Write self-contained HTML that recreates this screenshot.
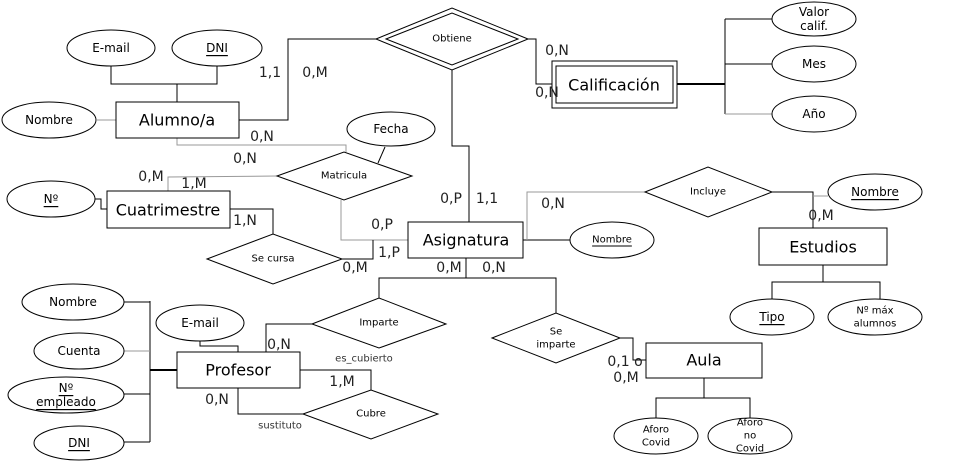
<!DOCTYPE html>
<html><head><meta charset="utf-8"><style>
html,body{margin:0;padding:0;background:#fff;}
svg{display:block;font-family:"DejaVu Sans","Liberation Sans",sans-serif;}
.l{stroke:#000;stroke-width:1;fill:none;}
.g{stroke:#999;}
.s{fill:#fff;stroke:#000;stroke-width:1;}
.e{font-size:16px;}
.a{font-size:12px;}
.r{font-size:10px;}
.c{font-size:14px;fill:#222;}
text{text-anchor:middle;dominant-baseline:central;}
</style></head><body>
<svg width="955" height="461" viewBox="0 0 955 461">
<g>
<polyline class="l" points="111,66 111,84 217,84 217,66"/><line class="l" x1="177" y1="84" x2="177" y2="102"/>
<line class="l g" x1="97" y1="120" x2="116" y2="120"/>
<polyline class="l" points="239,120 288,120 288,39 376,39"/>
<polyline class="l" points="452,70 452,146 469,146 469,222"/>
<polyline class="l" points="521,39 536,39 536,84 552,84"/>
<line class="l" x1="677" y1="84" x2="725" y2="84" style="stroke-width:2"/>
<line class="l" x1="725" y1="19" x2="725" y2="114"/>
<line class="l" x1="725" y1="19" x2="772" y2="19"/><line class="l" x1="725" y1="64" x2="772" y2="64"/><line class="l g" x1="725" y1="114" x2="772" y2="114"/>
<polyline class="l g" points="177,138 177,145 346,145 346,152"/>
<line class="l" x1="385" y1="147" x2="378" y2="163"/>
<polyline class="l g" points="277,176 168,177 168,191"/>
<polyline class="l g" points="341,200 341,240 408,240"/>
<polyline class="l" points="95,199 101,199 101,209 107,209"/>
<polyline class="l" points="230,209 273,209 273,234"/>
<polyline class="l" points="342,259 373,259 373,240"/>
<line class="l" x1="523" y1="240" x2="570" y2="240"/>
<polyline class="l g" points="527,240 527,192 645,192"/>
<polyline class="l" points="772,192 813,192 813,229"/><line class="l g" x1="813" y1="196" x2="828" y2="196"/>
<line class="l" x1="823" y1="265" x2="823" y2="282"/><polyline class="l" points="772,300 772,282 880,282 880,300"/>
<line class="l" x1="466" y1="258" x2="466" y2="278"/><polyline class="l" points="379,298 379,278 556,278 556,313"/>
<polyline class="l" points="312,324 266,324 266,352"/>
<polyline class="l" points="200,341 200,346 238,346 238,352"/>
<line class="l" x1="150" y1="301" x2="150" y2="442"/>
<line class="l" x1="124" y1="302" x2="150" y2="302"/><line class="l g" x1="124" y1="351" x2="150" y2="351"/><line class="l" x1="124" y1="394" x2="150" y2="394"/><line class="l" x1="124" y1="442" x2="150" y2="442"/>
<line class="l" x1="150" y1="370" x2="177" y2="370" style="stroke-width:2"/>
<polyline class="l" points="300,370 371,370 371,390"/>
<polyline class="l" points="238,388 238,414 303,414"/>
<polyline class="l" points="620,338 633,338 633,360 646,360"/>
<line class="l" x1="704" y1="378" x2="704" y2="398"/><polyline class="l" points="656,418 656,398 750,398 750,418"/>
</g>
<g><rect class="s" x="116" y="102" width="123" height="36"/><text class="e" x="177" y="120">Alumno/a</text></g>
<g><rect class="s" x="552" y="61" width="125" height="47"/><rect class="s" x="556" y="66" width="117" height="37"/><text class="e" x="614" y="85">Calificación</text></g>
<g><rect class="s" x="107" y="191" width="123" height="37"/><text class="e" x="168" y="210">Cuatrimestre</text></g>
<g><rect class="s" x="408" y="222" width="115" height="36"/><text class="e" x="466" y="240">Asignatura</text></g>
<g><rect class="s" x="759" y="228" width="128" height="37"/><text class="e" x="823" y="247">Estudios</text></g>
<g><rect class="s" x="177" y="352" width="123" height="36"/><text class="e" x="238" y="370">Profesor</text></g>
<g><rect class="s" x="646" y="343" width="116" height="35"/><text class="e" x="704" y="360">Aula</text></g>
<g><polygon class="s" points="376,39 452,8 528,39 452,70"/><polygon class="s" points="386,39 452,13 518,39 452,65"/><text class="r" x="452" y="39">Obtiene</text></g>
<g><polygon class="s" points="277,176 344,152 412,176 344,200"/><text class="r" x="344" y="176">Matricula</text></g>
<g><polygon class="s" points="207,259 273,234 342,259 273,284"/><text class="r" x="273" y="259">Se cursa</text></g>
<g><polygon class="s" points="645,192 708,167 772,192 708,217"/><text class="r" x="708" y="192">Incluye</text></g>
<g><polygon class="s" points="312,324 379,298 446,324 379,348"/><text class="r" x="379" y="323">Imparte</text></g>
<g><polygon class="s" points="492,338 556,313 620,338 556,363"/><text class="r" x="556" y="332">Se</text><text class="r" x="556" y="345">imparte</text></g>
<g><polygon class="s" points="303,414 371,390 438,414 371,439"/><text class="r" x="371" y="414">Cubre</text></g>
<g>
<g><ellipse class="s" cx="111" cy="48" rx="44" ry="18"/><text class="a" x="111" y="48">E-mail</text></g>
<g><ellipse class="s" cx="217" cy="48" rx="45" ry="18"/><text class="a" x="217" y="48" text-decoration="underline">DNI</text></g>
<g><ellipse class="s" cx="49" cy="120" rx="47" ry="18"/><text class="a" x="49" y="120">Nombre</text></g>
<g><ellipse class="s" cx="814" cy="19" rx="42" ry="17"/><text class="a" x="814" y="12">Valor</text><text class="a" x="814" y="26">calif.</text></g>
<g><ellipse class="s" cx="814" cy="64" rx="42" ry="18"/><text class="a" x="814" y="64">Mes</text></g>
<g><ellipse class="s" cx="814" cy="114" rx="42" ry="18"/><text class="a" x="814" y="114">Año</text></g>
<g><ellipse class="s" cx="391" cy="129" rx="44" ry="17"/><text class="a" x="391" y="129">Fecha</text></g>
<g><ellipse class="s" cx="51" cy="199" rx="44" ry="18"/><text class="a" x="51" y="199" text-decoration="underline">Nº</text></g>
<g><ellipse class="s" cx="612" cy="240" rx="42" ry="18"/><text class="r" x="612" y="240" text-decoration="underline">Nombre</text></g>
<g><ellipse class="s" cx="875" cy="192" rx="47" ry="18"/><text class="a" x="875" y="192" text-decoration="underline">Nombre</text></g>
<g><ellipse class="s" cx="772" cy="317" rx="42" ry="18"/><text class="a" x="772" y="317" text-decoration="underline">Tipo</text></g>
<g><ellipse class="s" cx="875" cy="317" rx="47" ry="18"/><text class="r" x="875" y="311">Nº máx</text><text class="r" x="875" y="324">alumnos</text></g>
<g><ellipse class="s" cx="200" cy="323" rx="44" ry="18"/><text class="a" x="200" y="323">E-mail</text></g>
<g><ellipse class="s" cx="73" cy="302" rx="51" ry="18"/><text class="a" x="73" y="302">Nombre</text></g>
<g><ellipse class="s" cx="79" cy="351" rx="45" ry="18"/><text class="a" x="79" y="351">Cuenta</text></g>
<g><ellipse class="s" cx="66" cy="395" rx="58" ry="18"/><text class="a" x="66" y="388" text-decoration="underline">Nº</text><text class="a" x="66" y="402" text-decoration="underline">empleado</text></g>
<g><ellipse class="s" cx="79" cy="443" rx="45" ry="17"/><text class="a" x="79" y="443" text-decoration="underline">DNI</text></g>
<g><ellipse class="s" cx="656" cy="436" rx="42" ry="18"/><text class="r" x="656" y="430">Aforo</text><text class="r" x="656" y="443">Covid</text></g>
<g><ellipse class="s" cx="750" cy="436" rx="42" ry="18"/><text class="r" x="750" y="423">Aforo</text><text class="r" x="750" y="436">no</text><text class="r" x="750" y="449">Covid</text></g>
</g>
<g>
<text class="c" x="270" y="73">1,1</text><text class="c" x="315" y="73">0,M</text>
<text class="c" x="557" y="51">0,N</text><text class="c" x="547" y="93">0,N</text>
<text class="c" x="262" y="137">0,N</text><text class="c" x="245" y="159">0,N</text>
<text class="c" x="151" y="177">0,M</text><text class="c" x="194" y="184">1,M</text>
<text class="c" x="245" y="221">1,N</text>
<text class="c" x="382" y="225">0,P</text><text class="c" x="389" y="253">1,P</text><text class="c" x="355" y="268">0,M</text>
<text class="c" x="451" y="199">0,P</text><text class="c" x="487" y="199">1,1</text>
<text class="c" x="553" y="204">0,N</text><text class="c" x="821" y="216">0,M</text>
<text class="c" x="449" y="268">0,M</text><text class="c" x="494" y="268">0,N</text>
<text class="c" x="279" y="345">0,N</text><text class="c" x="342" y="382">1,M</text><text class="c" x="217" y="400">0,N</text>
<text class="c" x="625" y="362">0,1 o</text><text class="c" x="626" y="378">0,M</text>
<text class="r" x="364" y="359" style="fill:#333">es_cubierto</text><text class="r" x="280" y="426" style="fill:#333">sustituto</text>
</g>
</svg>
</body></html>
